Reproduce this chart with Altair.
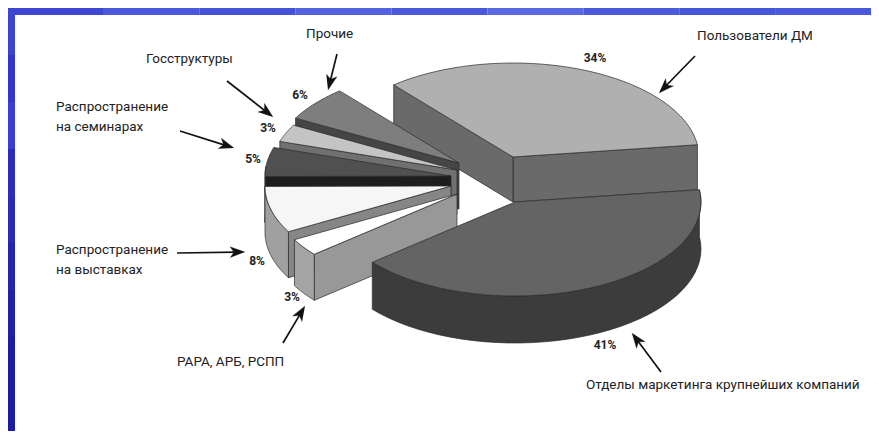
import math
import altair as alt
import pandas as pd

# ---- values
shares = [34, 6, 3, 5, 8, 3, 41]
pct_labels = ["34%", "6%", "3%", "5%", "8%", "3%", "41%"]
apex_x = [513, 459, 457, 451, 451, 457, 515]
apex_y = [157, 163, 170, 176, 186, 194, 202]
depths = [45, 46, 44, 46, 46, 46, 47]
top_colors = ["#b0b0b0", "#7e7e7e", "#c4c4c4", "#505050", "#f6f6f6", "#ffffff", "#646464"]
face_colors = ["#6a6a6a", "#454545", "#707070", "#1e1e1e", "#868686", "#989898", "#3a3a3a"]
wall_colors = ["#6a6a6a", "#454545", "#707070", "#2c2c2c", "#a0a0a0", "#a4a4a4", "#3c3c3c"]
draw_order = [0, 1, 2, 3, 4, 5, 6]
start_angle = 7.5
semi_a, semi_b = 186.0, 94.0

name_text = ["Прочие", "Госструктуры", "Распространение", "на семинарах", "Распространение",
             "на выставках", "РАРА, АРБ, РСПП", "Пользователи ДМ",
             "Отделы маркетинга крупнейших компаний"]
name_x = [306, 146, 56, 56, 56, 56, 177, 697, 586]
name_y = [34, 59, 107, 127, 250, 270, 362, 36, 385]
pct_x = [595, 300, 268, 253, 257, 292, 605]
pct_y = [58, 95, 128, 159, 261, 297, 345]
arrow_tail_x = [337, 227, 180, 177, 283, 695, 661]
arrow_tail_y = [54, 81, 131, 253, 343, 56, 372]
arrow_tip_x = [328, 273, 234, 245, 305, 659, 632]
arrow_tip_y = [90, 117, 148, 252, 306, 93, 333]
left_band = ["#3d44d0", "#3236c8", "#3a3ed0", "#2c2cbc", "#2a2ab4", "#2424ac", "#2020a8", "#1c1ca4", "#1c1ca0"]
top_band = ["#3d47d2", "#4a58dc", "#4352d6", "#5363e0", "#4a58da", "#5a68e2", "#4a5ad8", "#4656d8", "#4a58dc"]

W, H = 863, 423
X0, Y0 = 8, 8


def arc(i, a, b, depth=0, n=40):
    out = []
    for k in range(n + 1):
        t = math.radians(a + (b - a) * k / n)
        out.append((apex_x[i] + semi_a * math.cos(t), apex_y[i] - semi_b * math.sin(t) + depth))
    return out


rows = []
pid = 0


def add(points, fill):
    global pid
    pts = points + [points[0]]
    for s, (x, y) in enumerate(pts):
        rows.append({"x": x, "y": y, "id": pid, "seq": s, "fill": fill})
    pid += 1


cum = start_angle
ranges = []
for s in shares:
    ranges.append((cum, cum + 3.6 * s))
    cum += 3.6 * s

for i in draw_order:
    a, b = ranges[i]
    d = depths[i]
    ax, ay = apex_x[i], apex_y[i]
    # cut faces that look at the viewer
    for ang, normal in ((a, a - 90), (b, b + 90)):
        if math.sin(math.radians(normal)) < 0:
            p = arc(i, ang, ang, 0, 1)[0]
            add([(ax, ay), p, (p[0], p[1] + d), (ax, ay + d)], face_colors[i])
    # outer wall of the part on the front half
    wa = max(a, 174)
    if b > wa:
        add(arc(i, wa, b) + arc(i, wa, b, d)[::-1], wall_colors[i])
    # top
    add([(ax, ay)] + arc(i, a, b), top_colors[i])

poly = pd.DataFrame(rows)

# arrows
shaft_rows, head_rows = [], []
for j in range(len(arrow_tip_x)):
    tx, ty, hx, hy = arrow_tail_x[j], arrow_tail_y[j], arrow_tip_x[j], arrow_tip_y[j]
    L = math.hypot(hx - tx, hy - ty)
    ux, uy = (hx - tx) / L, (hy - ty) / L
    shaft_rows += [{"x": tx, "y": ty, "id": j, "seq": 0},
                   {"x": hx - 8 * ux, "y": hy - 8 * uy, "id": j, "seq": 1}]
    head = [(hx, hy),
            (hx - 15 * ux + 5.5 * uy, hy - 15 * uy - 5.5 * ux),
            (hx - 11 * ux, hy - 11 * uy),
            (hx - 15 * ux - 5.5 * uy, hy - 15 * uy + 5.5 * ux)]
    for s, (x, y) in enumerate(head):
        head_rows.append({"x": x, "y": y, "id": j, "seq": s})

xs = alt.Scale(domain=[X0, X0 + W], range=[0, W], nice=False, zero=False)
ys = alt.Scale(domain=[Y0 + H, Y0], range=[H, 0], nice=False, zero=False)
X = alt.X("x:Q", scale=xs, axis=None)
Y = alt.Y("y:Q", scale=ys, axis=None)

# frame bands
band_rows = []
n = len(left_band)
for k, c in enumerate(left_band):
    band_rows.append({"x": 8, "x2": 15, "y": 8 + H * k / n, "y2": 8 + H * (k + 1) / n, "c": c})
n = len(top_band)
for k, c in enumerate(top_band):
    band_rows.append({"x": 8 + W * k / n, "x2": 8 + W * (k + 1) / n, "y": 8, "y2": 15, "c": c})

bands = alt.Chart(pd.DataFrame(band_rows)).mark_rect(strokeWidth=0).encode(
    x=X, x2="x2:Q", y=Y, y2="y2:Q", fill=alt.Fill("c:N", scale=None))

pie = alt.Chart(poly).mark_line(filled=True, stroke="#2a2a2a", strokeWidth=0.7, interpolate="linear").encode(
    x=X, y=Y, detail="id:N", order="seq:Q", fill=alt.Fill("fill:N", scale=None))

shafts = alt.Chart(pd.DataFrame(shaft_rows)).mark_line(color="#111111", strokeWidth=1.7).encode(
    x=X, y=Y, detail="id:N", order="seq:Q")
heads = alt.Chart(pd.DataFrame(head_rows)).mark_line(filled=True, fill="#111111", stroke="#111111", strokeWidth=0.3).encode(
    x=X, y=Y, detail="id:N", order="seq:Q")

names = alt.Chart(pd.DataFrame({"x": name_x, "y": name_y, "t": name_text})).mark_text(
    font="Roboto", fontSize=13.5, align="left", baseline="middle", color="#222222"
).encode(x=X, y=Y, text="t:N")
pcts = alt.Chart(pd.DataFrame({"x": pct_x, "y": pct_y, "t": pct_labels})).mark_text(
    font="Roboto", fontSize=12, fontWeight="bold", align="center", baseline="middle", color="#222222"
).encode(x=X, y=Y, text="t:N")

chart = alt.layer(bands, pie, shafts, heads, names, pcts).properties(
    width=W, height=H, padding=0, autosize=alt.AutoSizeParams(type="none"), background="white"
).configure_view(stroke=None)

chart.save("out.html", embed_options={"renderer": "svg", "actions": False})
